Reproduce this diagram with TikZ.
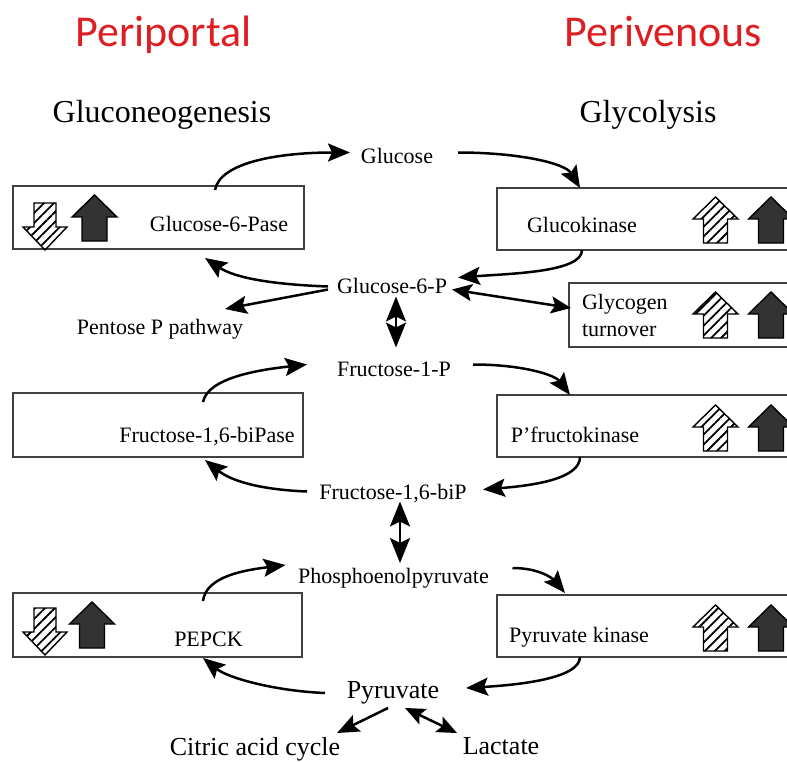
\documentclass[tikz,border=0pt]{standalone}
\usepackage{fontspec}
\setmainfont{Liberation Serif}
\newfontfamily\zonefont{Carlito}
\usetikzlibrary{arrows.meta,patterns.meta,calc}
\definecolor{zonered}{RGB}{222,30,34}

\begin{document}
\begin{tikzpicture}[x=1pt,y=-1pt,
  lbl/.style={inner sep=0pt,outer sep=0pt,text depth=0pt,font=\fontsize{22}{25}\selectfont},
  lblbig/.style={lbl,font=\fontsize{26}{30}\selectfont},
  zone/.style={inner sep=0pt,anchor=base,text=zonered,font=\zonefont\fontsize{44}{50}\selectfont},
  pathway/.style={inner sep=0pt,anchor=base,font=\fontsize{32}{36}\selectfont},
  enzyme/.style={draw=black!75,line width=2pt,inner sep=0pt,outer sep=0pt},
  flow/.style={line width=2.5pt,-{Stealth[length=22pt,width=18pt,inset=4pt]}},
  twoway/.style={line width=2.5pt,{Stealth[length=20pt,width=17pt,inset=4pt]}-{Stealth[length=20pt,width=17pt,inset=4pt]}},
  equil/.style={line width=2.5pt,{Stealth[length=25pt,width=20pt,inset=5pt]}-{Stealth[length=25pt,width=20pt,inset=5pt]}},
  hatch/.style={line width=1.4pt,pattern={Lines[angle=45,distance=7pt,line width=1.8pt]}},
  dark/.style={line width=1.4pt,fill=black!80},
  hatchup/.pic={\draw[hatch]
      (0,0) -- (22.5,22) -- (12,22) -- (12,46) -- (-12,46) -- (-12,22) -- (-22.5,22) -- cycle;},
  darkup/.pic={\draw[dark]
      (0,0) -- (22.5,22) -- (12.5,22) -- (12.5,46) -- (-12.5,46) -- (-12.5,22) -- (-22.5,22) -- cycle;},
  hatchdown/.pic={\draw[hatch]
      (0,0) -- (22,-23) -- (11,-23) -- (11,-47) -- (-11,-47) -- (-11,-23) -- (-22,-23) -- cycle;}
]
\useasboundingbox (0,0) rectangle (787,762);
\fill[white] (0,0) rectangle (787,762);
\clip (0,0) rectangle (787,762);

% zone and pathway headings
\node[zone] (pp) at (163.5,47) {Periportal};
\node[zone] (pv) at (663.5,47) {Perivenous};
\node[pathway] (gng) at (162,123) {Gluconeogenesis};
\node[pathway] (gly) at (648,123) {Glycolysis};

% enzyme boxes
\node[enzyme,minimum width=291pt,minimum height=63pt] (b1) at (158.5,217.5) {};
\node[enzyme,minimum width=303pt,minimum height=62pt] (b2) at (648.5,219) {};
\node[enzyme,minimum width=231pt,minimum height=64pt] (b3) at (684.5,315) {};
\node[enzyme,minimum width=290pt,minimum height=64pt] (b4) at (158,425) {};
\node[enzyme,minimum width=303pt,minimum height=62pt] (b5) at (648.5,426) {};
\node[enzyme,minimum width=289pt,minimum height=64pt] (b6) at (157.5,625) {};
\node[enzyme,minimum width=303pt,minimum height=62pt] (b7) at (648.5,626) {};

% zonal expression arrows
\pic at (45,250) {hatchdown};
\pic at (94.5,195) {darkup};
\pic at (45,655) {hatchdown};
\pic at (92,602) {darkup};
\foreach \ty in {197,292,405,605} {
  \pic at (715.5,\ty) {hatchup};
  \pic at (771,\ty) {darkup};
}

% enzyme names
\node[lbl] (g6pase) at (219,224) {Glucose-6-Pase};
\node[lbl] (gk) at (582,225) {Glucokinase};
\node[lbl,align=left,anchor=west,font=\fontsize{22}{27}\selectfont] (glyc) at (582,315) {Glycogen\\turnover};
\node[lbl] (fbpase) at (207,435) {Fructose-1,6-biPase};
\node[lbl] (pfk) at (575,435) {P'fructokinase};
\node[lbl] (pepck) at (208.5,639) {PEPCK};
\node[lbl] (pk) at (579,635) {Pyruvate kinase};

% metabolites
\node[lbl] (glc) at (397,155.5) {Glucose};
\node[lbl] (g6p) at (392,285.5) {Glucose-6-P};
\node[lbl] (pent) at (160,327) {Pentose P pathway};
\node[lbl] (f1p) at (394,369.5) {Fructose-1-P};
\node[lbl] (f16bp) at (393,491.5) {Fructose-1,6-biP};
\node[lbl] (pep) at (393.5,576) {Phosphoenolpyruvate};
\node[lblbig] (pyr) at (393,690) {Pyruvate};
\node[lblbig] (cac) at (255,746) {Citric acid cycle};
\node[lblbig] (lac) at (501,746) {Lactate};

% glucose level
\draw[flow] ($(b1.north west)+(202,4)$) .. controls +(5,-28) and +(-70,0) .. ($(glc.center)+(-47,-3)$);
\draw[flow] ($(glc.center)+(61,-3)$) .. controls +(60,0) and +(-15,-25) .. ($(b2.north west)+(83,0)$);
\draw[flow] ($(b2.south west)+(85,0)$) .. controls +(0,22) and +(55,-4) .. ($(g6p.center)+(66,-8)$);
\draw[twoway] ($(g6p.center)+(60,4)$) -- ($(b3.west)+(2,-7)$);
\draw[flow] ($(g6p.center)+(-64,1)$) .. controls +(-55,-2) and +(30,20) .. ($(b1.south west)+(192,9)$);
\draw[flow] ($(g6p.center)+(-64,4)$) -- ($(pent.center)+(65,-18)$);
\draw[equil] ($(g6p.center)+(4,11)$) -- ($(f1p.center)+(2,-22)$);

% fructose level
\draw[flow] ($(b4.north west)+(190,9)$) .. controls +(5,-25) and +(-45,5) .. ($(f1p.center)+(-87,-5)$);
\draw[flow] ($(f1p.center)+(79,-5)$) .. controls +(50,0) and +(-15,-20) .. ($(b5.north west)+(73,0)$);
\draw[flow] ($(b5.south west)+(83,0)$) .. controls +(0,22) and +(50,-4) .. ($(f16bp.center)+(90,-2)$);
\draw[flow] ($(f16bp.center)+(-86,0)$) .. controls +(-50,-2) and +(25,20) .. ($(b4.south west)+(192,3)$);
\draw[equil] ($(f16bp.center)+(7,10)$) -- ($(pep.center)+(6.5,-13)$);

% pyruvate level
\draw[flow] ($(b6.north west)+(190,8)$) .. controls +(3,-25) and +(-40,5) .. ($(pep.center)+(-108,-11)$);
\draw[flow] ($(pep.center)+(119,-8)$) .. controls +(30,0) and +(-10,-12) .. ($(b7.north west)+(68,-2)$);
\draw[flow] ($(b7.south west)+(83,0)$) .. controls +(0,22) and +(50,-3) .. ($(pyr.center)+(73,-2)$);
\draw[flow] ($(pyr.center)+(-68,3)$) .. controls +(-50,-2) and +(25,20) .. ($(b6.south west)+(190,1)$);
\draw[flow] ($(pyr.center)+(-5,18)$) -- ($(cac.center)+(82,-13)$);
\draw[twoway] ($(pyr.center)+(12,18)$) -- ($(lac.center)+(-44,-13)$);
\end{tikzpicture}
\end{document}
